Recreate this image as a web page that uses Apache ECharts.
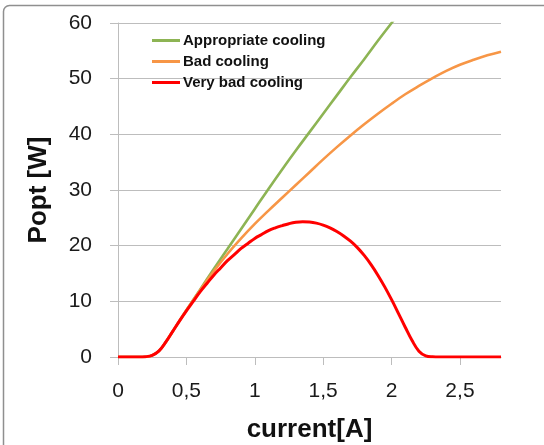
<!DOCTYPE html>
<html>
<head>
<meta charset="utf-8">
<script src="https://cdn.jsdelivr.net/npm/echarts@6/dist/echarts.min.js"></script>
<style>html,body{margin:0;padding:0;background:#fff}#c{width:544px;height:445px}</style>
</head>
<body>
<div id="c"></div>
<script>
var seriesNames = ['Appropriate cooling', 'Bad cooling', 'Very bad cooling'];
var xTickValues = [0, 0.5, 1, 1.5, 2, 2.5];
var yTickValues = [0, 10, 20, 30, 40, 50, 60];

var greenX = [0,0.1,0.2,0.25,0.3,0.35,0.4,0.5,0.6,0.7,0.8,0.9,1.0,1.1,1.2,1.3,1.4,1.5,1.6,1.7,1.8,1.9,2.0,2.1];
var greenY = [0,0,0,0.3,1.1,2.7,4.6,8.4,12.1,15.8,19.4,23.0,26.6,30.2,33.7,37.1,40.4,43.7,47.0,50.3,53.5,56.8,60.0,63.2];

var orangeX = [0,0.1,0.2,0.25,0.3,0.35,0.4,0.5,0.6,0.7,0.8,0.9,1.0,1.1,1.2,1.3,1.4,1.5,1.6,1.7,1.8,1.9,2.0,2.1,2.2,2.3,2.4,2.5,2.6,2.7,2.8];
var orangeY = [0,0,0,0.3,1.1,2.7,4.6,8.4,12.0,15.4,18.5,21.3,23.9,26.3,28.6,30.9,33.2,35.5,37.7,39.8,41.8,43.7,45.5,47.2,48.7,50.1,51.4,52.5,53.4,54.2,54.85];

var redX = [0,0.05,0.1,0.15,0.2,0.25,0.3,0.35,0.4,0.45,0.5,0.55,0.6,0.65,0.7,0.75,0.8,0.85,0.9,0.95,1.0,1.05,1.1,1.15,1.2,1.25,1.3,1.35,1.4,1.45,1.5,1.55,1.6,1.65,1.7,1.75,1.8,1.85,1.9,1.95,2.0,2.05,2.1,2.15,2.2,2.25,2.3,2.35,2.4,2.5,2.6,2.7,2.8];
var redY = [0,0,0,0,0.05,0.3,1.1,2.7,4.6,6.5,8.3,10.0,11.7,13.2,14.7,16.0,17.3,18.4,19.5,20.4,21.3,22.0,22.7,23.2,23.6,23.95,24.2,24.3,24.25,24.05,23.7,23.2,22.55,21.75,20.8,19.65,18.25,16.6,14.7,12.6,10.3,7.85,5.35,2.95,1.05,0.2,0.03,0,0,0,0,0,0];

function pairs(xs, ys) { return xs.map(function (x, i) { return [x, ys[i]]; }); }

var gridColor = '#bdbdbd';
var chart = echarts.init(document.getElementById('c'), null, {renderer: 'canvas'});
chart.setOption({
  animation: false,
  backgroundColor: '#fff',
  graphic: [{
    type: 'rect', silent: true, z: -10,
    shape: {x: 3.5, y: 5.5, width: 560, height: 460, r: 6},
    style: {fill: 'none', stroke: '#8f8f8f', lineWidth: 1.5}
  }],
  grid: {left: 118, right: 43, top: 23, bottom: 88, containLabel: false, outerBoundsMode: 'none'},
  legend: {
    orient: 'vertical', left: 152, top: 33, padding: 0,
    itemWidth: 28, itemHeight: 3, itemGap: 6, icon: 'rect',
    textStyle: {fontFamily: 'Liberation Sans', fontSize: 15, fontWeight: 'bold', color: '#111', padding: [0,0,0,-2]},
    data: seriesNames
  },
  xAxis: {
    type: 'value', min: 0, max: 2.8,
    name: 'current[A]', nameLocation: 'middle', nameGap: 60,
    nameTextStyle: {fontFamily: 'Liberation Sans', fontSize: 26, fontWeight: 'bold', color: '#111'},
    axisLine: {show: true, lineStyle: {color: gridColor, width: 1}},
    axisTick: {show: true, length: 8, lineStyle: {color: gridColor}, customValues: xTickValues},
    axisLabel: {
      customValues: xTickValues, margin: 24,
      fontFamily: 'Liberation Sans', fontSize: 21, color: '#1a1a1a',
      formatter: function (v) { return String(v).replace('.', ','); }
    },
    splitLine: {show: false}
  },
  yAxis: {
    type: 'value', min: 0, max: 60, interval: 10,
    name: 'Popt [W]', nameLocation: 'middle', nameGap: 66, nameRotate: 90,
    nameTextStyle: {fontFamily: 'Liberation Sans', fontSize: 26, fontWeight: 'bold', color: '#111'},
    axisLine: {show: true, lineStyle: {color: gridColor, width: 1}},
    axisTick: {show: true, length: 8, lineStyle: {color: gridColor}, customValues: yTickValues},
    axisLabel: {customValues: yTickValues, margin: 26, fontFamily: 'Liberation Sans', fontSize: 21, color: '#1a1a1a'},
    splitLine: {show: true, lineStyle: {color: gridColor, width: 1}}
  },
  series: [
    {name: seriesNames[0], type: 'line', data: pairs(greenX, greenY), smooth: 0.4, showSymbol: false, clip: true,
     itemStyle: {color: '#8db454'}, lineStyle: {color: '#8db454', width: 2.6}},
    {name: seriesNames[1], type: 'line', data: pairs(orangeX, orangeY), smooth: 0.4, showSymbol: false, clip: true,
     itemStyle: {color: '#f79646'}, lineStyle: {color: '#f79646', width: 2.6}},
    {name: seriesNames[2], type: 'line', data: pairs(redX, redY), smooth: 0.4, showSymbol: false, clip: true,
     itemStyle: {color: '#ff0000'}, lineStyle: {color: '#ff0000', width: 3}}
  ]
});
</script>
</body>
</html>
